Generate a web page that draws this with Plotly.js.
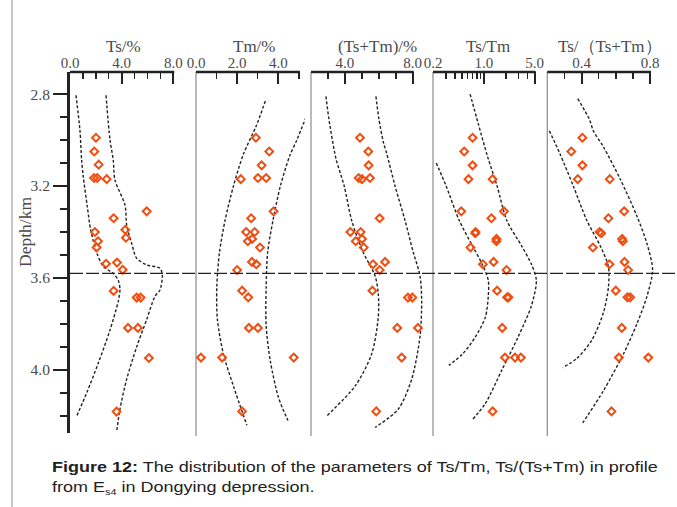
<!DOCTYPE html>
<html>
<head>
<meta charset="utf-8">
<script src="https://cdn.plot.ly/plotly-3.0.1.min.js"></script>
<style>
  html, body { margin: 0; padding: 0; background: #fff; }
  #wrap { position: relative; width: 677px; height: 507px; overflow: hidden; }
  #chart { position: absolute; left: 0; top: 0; width: 677px; height: 507px; }
  #caption { position: absolute; left: 52px; top: 457px; width: 520px;
    transform: scaleX(1.2); transform-origin: 0 0;
    font-family: "Liberation Sans", Arial, sans-serif; font-size: 15px; line-height: 20px; color: #222; }
  #caption .ln { white-space: nowrap; height: 20px; }
  #caption sub { font-size: 9px; vertical-align: -3px; line-height: 0; }
</style>
</head>
<body>
<div id="wrap">
  <div id="chart"></div>
  <div id="caption">
    <div class="ln"><b>Figure 12:</b><span> The distribution of the parameters of Ts/Tm, Ts/(Ts+Tm) in profile</span></div>
    <div class="ln"><span>from E</span><sub>s4</sub><span> in Dongying depression.</span></div>
  </div>
</div>
<script>
// ---------- Data ----------
const panelTitles = ["Ts/%", "Tm/%", "(Ts+Tm)/%", "Ts/Tm", "Ts/（Ts+Tm）"];

// Panel 1: Ts (%)
const depthTs = [2.99, 3.05, 3.107, 3.165, 3.165, 3.17, 3.31, 3.34, 3.39, 3.40, 3.425, 3.44, 3.467, 3.533, 3.538, 3.564, 3.656, 3.685, 3.685, 3.817, 3.817, 3.948, 4.181];
const valTs   = [2.01, 1.88, 2.22, 1.86, 2.11, 2.84, 5.94, 3.38, 4.28, 1.93, 4.33, 2.17, 2.06, 3.64, 2.79, 4.08, 3.38, 5.16, 5.47, 4.49, 5.26, 6.11, 3.61];
const tsLeftX  = [0.46, 0.77, 0.90, 1.03, 1.34, 1.60, 2.07, 2.58, 3.35, 3.74, 3.87, 3.74, 3.10, 2.19, 1.29, 0.52];
const tsLeftD  = [2.805, 2.957, 3.087, 3.16, 3.29, 3.39, 3.49, 3.55, 3.58, 3.61, 3.65, 3.70, 3.826, 3.97, 4.10, 4.20];
const tsRightX = [2.79, 3.10, 3.35, 3.48, 4.26, 4.39, 4.78, 5.16, 5.94, 6.97, 7.15, 6.97, 6.58, 5.94, 5.16, 4.39, 3.87, 3.61];
const tsRightD = [2.805, 3.0, 3.087, 3.174, 3.283, 3.37, 3.45, 3.514, 3.543, 3.558, 3.587, 3.652, 3.68, 3.78, 3.90, 4.04, 4.17, 4.27];

// Panel 2: Tm (%)
const depthTm = [2.99, 3.05, 3.11, 3.17, 3.165, 3.165, 3.31, 3.34, 3.40, 3.40, 3.43, 3.44, 3.467, 3.53, 3.54, 3.565, 3.655, 3.684, 3.817, 3.817, 3.946, 3.946, 3.946, 4.18];
const valTm   = [2.91, 3.56, 3.19, 2.18, 3.01, 3.41, 3.77, 2.68, 2.44, 2.85, 2.73, 2.52, 3.11, 2.72, 2.93, 2.00, 2.24, 2.54, 2.57, 3.01, 0.24, 1.27, 4.75, 2.24];
const tmLeftX  = [3.37, 2.92, 2.31, 1.82, 1.41, 1.14, 1.01, 1.04, 1.33, 1.82, 2.47];
const tmLeftD  = [2.83, 2.94, 3.06, 3.20, 3.35, 3.49, 3.64, 3.78, 3.93, 4.07, 4.24];
const tmRightX = [5.35, 4.90, 4.55, 4.10, 3.74, 3.48, 3.41, 3.41, 3.61, 4.01, 4.47];
const tmRightD = [2.90, 3.00, 3.07, 3.20, 3.35, 3.49, 3.64, 3.81, 3.96, 4.12, 4.22];

// Panel 3: Ts+Tm (%)
const depthSum = [2.99, 3.05, 3.11, 3.165, 3.17, 3.165, 3.34, 3.40, 3.40, 3.43, 3.44, 3.467, 3.54, 3.53, 3.565, 3.655, 3.685, 3.685, 3.817, 3.817, 3.946, 4.18];
const valSum   = [4.89, 5.38, 5.40, 4.81, 5.01, 5.48, 6.05, 4.32, 4.93, 5.01, 4.64, 5.11, 5.66, 6.37, 6.05, 5.62, 7.72, 7.98, 7.09, 8.31, 7.35, 5.85];
const sumLeftX  = [2.88, 3.06, 3.47, 3.96, 4.40, 5.09, 5.78, 5.97, 5.97, 5.58, 4.60, 2.93];
const sumLeftD  = [2.81, 2.91, 3.08, 3.20, 3.35, 3.49, 3.59, 3.67, 3.77, 3.93, 4.07, 4.20];
const sumRightX = [5.83, 6.01, 6.27, 6.47, 6.96, 7.55, 8.04, 8.43, 8.53, 8.43, 7.94, 7.15, 5.78];
const sumRightD = [2.81, 2.91, 3.01, 3.06, 3.20, 3.35, 3.49, 3.59, 3.70, 3.855, 4.04, 4.17, 4.25];

// Panel 4: Ts/Tm (log axis)
const depthRatio = [2.99, 3.05, 3.11, 3.17, 3.17, 3.31, 3.31, 3.34, 3.40, 3.405, 3.43, 3.44, 3.467, 3.54, 3.53, 3.565, 3.655, 3.684, 3.684, 3.817, 3.946, 3.946, 3.946, 4.18];
const valRatio   = [0.70, 0.537, 0.70, 0.615, 1.32, 0.489, 1.89, 1.27, 0.77, 0.76, 1.49, 1.49, 0.655, 0.97, 1.36, 2.05, 1.52, 2.09, 2.18, 1.79, 1.95, 2.68, 3.23, 1.32];
const ratioLeftX  = [0.222, 0.303, 0.459, 0.697, 0.95, 1.15, 1.15, 1.05, 0.77, 0.51, 0.33];
const ratioLeftD  = [3.10, 3.20, 3.35, 3.46, 3.54, 3.61, 3.68, 3.77, 3.855, 3.93, 3.98];
const ratioRightX = [0.647, 0.84, 1.12, 1.52, 2.07, 3.30, 4.51, 5.27, 4.51, 2.97, 1.77, 1.05, 0.68];
const ratioRightD = [2.80, 2.93, 3.07, 3.20, 3.35, 3.46, 3.54, 3.61, 3.72, 3.855, 4.00, 4.145, 4.22];

// Panel 5: Ts/(Ts+Tm)
const depthFrac = [2.99, 3.05, 3.11, 3.17, 3.17, 3.31, 3.34, 3.40, 3.405, 3.43, 3.44, 3.467, 3.54, 3.53, 3.565, 3.655, 3.684, 3.684, 3.817, 3.946, 3.946, 4.18];
const valFrac   = [0.405, 0.34, 0.405, 0.378, 0.565, 0.649, 0.557, 0.505, 0.515, 0.637, 0.641, 0.466, 0.563, 0.651, 0.672, 0.60, 0.668, 0.684, 0.635, 0.618, 0.79, 0.575];
const fracLeftX  = [0.212, 0.274, 0.352, 0.431, 0.509, 0.557, 0.557, 0.528, 0.46, 0.372, 0.29];
const fracLeftD  = [2.96, 3.06, 3.20, 3.35, 3.46, 3.55, 3.64, 3.75, 3.87, 3.95, 3.99];
const fracRightX = [0.378, 0.446, 0.469, 0.528, 0.626, 0.723, 0.782, 0.815, 0.782, 0.723, 0.645, 0.528, 0.407];
const fracRightD = [2.82, 2.91, 2.96, 3.03, 3.17, 3.33, 3.45, 3.565, 3.68, 3.80, 3.93, 4.09, 4.23];

const boundaryDepth = 3.58;

// Tick labels
const yTickVals = [2.8, 3.2, 3.6, 4.0];
const yTickText = ["2.8", "3.2", "3.6", "4.0"];
const yMinorVals = [2.9, 3.0, 3.1, 3.3, 3.4, 3.5, 3.7, 3.8, 3.9, 4.1, 4.2];

const x1Ticks = [0, 4, 8],   x1Text = ["0.0", "4.0", "8.0"], x1Minor = [1, 2, 3, 5, 6, 7];
const x2Ticks = [0, 2, 4],   x2Text = ["0.0", "2.0", "4.0"], x2Minor = [1, 3, 5];
const x3Ticks = [4, 8],      x3Text = ["4.0", "8.0"],        x3Minor = [3, 5, 6, 7];
const x4Ticks = [0.2, 1, 5], x4Text = ["0.2", "1.0", "5.0"], x4Minor = [0.3, 0.4, 0.5, 0.6, 0.7, 0.8, 0.9, 2, 3, 4];
const x5Ticks = [0.4, 0.8],  x5Text = ["0.4", "0.8"],        x5Minor = [0.3, 0.5, 0.6, 0.7];

// ---------- Layout geometry ----------
const W = 677, H = 507;
const topPx = 72, botPx = 433;
const px = v => v / W;
const py = v => 1 - v / H;

const panels = [
  {left: 70,    right: 188, r0: 0,    scale: 12.9125, type: 'linear', axEnd: 8},
  {left: 196,   right: 305, r0: 0,    scale: 20.575,  type: 'linear', axEnd: 5},
  {left: 311,   right: 428, r0: 2,    scale: 16.95,   type: 'linear', axEnd: 8},
  {left: 433,   right: 545, r0: Math.log10(0.2), scale: 72.75, type: 'log', axEnd: Math.log10(5)},
  {left: 547.3, right: 672, r0: 0.2,  scale: 171.2,   type: 'linear', axEnd: 0.8}
];
panels.forEach(p => { p.r1 = p.r0 + (p.right - p.left) / p.scale; p.axEndPx = p.left + (p.axEnd - p.r0) * p.scale; });

const serif = '"Liberation Serif", "Times New Roman", serif';
const textCol = '#4a4a4a';
const axCol = '#222';
const markerCol = '#ef4e12';

const tickSets = [
  [x1Ticks, x1Text, x1Minor],
  [x2Ticks, x2Text, x2Minor],
  [x3Ticks, x3Text, x3Minor],
  [x4Ticks, x4Text, x4Minor],
  [x5Ticks, x5Text, x5Minor]
];

const layout = {
  width: W, height: H,
  margin: {l: 0, r: 0, t: 0, b: 0, pad: 0},
  paper_bgcolor: '#fff', plot_bgcolor: 'rgba(0,0,0,0)',
  showlegend: false,
  font: {family: serif, color: textCol, size: 14},
  yaxis: {
    domain: [py(botPx), py(topPx)],
    range: [4.274, 2.704],
    anchor: 'x',
    showline: true, linecolor: axCol, linewidth: 3,
    ticks: 'outside', ticklen: 14, tickwidth: 1.2, tickcolor: axCol,
    tickmode: 'array', tickvals: yTickVals, ticktext: yTickText,
    minor: {tickmode: 'array', tickvals: yMinorVals, ticks: 'outside', ticklen: 7, tickwidth: 2, tickcolor: axCol},
    showgrid: false, zeroline: false,
    tickfont: {family: serif, size: 15.5, color: textCol}
  },
  shapes: [],
  annotations: []
};

panels.forEach((p, i) => {
  const key = i === 0 ? 'xaxis' : 'xaxis' + (i + 1);
  const [tv, tt, mv] = tickSets[i];
  layout[key] = {
    domain: [px(p.left), px(p.right)],
    range: [p.r0, p.r1],
    type: p.type,
    side: 'top', anchor: 'y',
    showline: false, showgrid: false, zeroline: false,
    ticks: 'inside', ticklen: 12, tickwidth: 2, tickcolor: axCol,
    tickmode: 'array', tickvals: tv, ticktext: tt,
    minor: {tickmode: 'array', tickvals: mv, ticks: 'inside', ticklen: 7, tickwidth: 1.5, tickcolor: axCol, showgrid: false},
    tickfont: {family: serif, size: 15, color: textCol},
    ticklabelstandoff: 0
  };
  layout.shapes.push({type: 'line', xref: 'paper', yref: 'paper',
    x0: px(p.left), x1: px(p.axEndPx + 1), y0: py(topPx), y1: py(topPx),
    line: {color: axCol, width: 2.5}, layer: 'above'});
  if (i > 0) {
    layout.shapes.push({type: 'line', xref: 'paper', yref: 'paper',
      x0: px(p.left), x1: px(p.left), y0: py(topPx), y1: py(436),
      line: {color: '#8a8a8a', width: 1.2}, layer: 'below'});
  }
});

const titleCenters = [124, 255, 377, 488, 610];
panelTitles.forEach((t, i) => {
  layout.annotations.push({text: t, xref: 'paper', yref: 'paper',
    x: px(titleCenters[i]), y: py(46), xanchor: 'center', yanchor: 'middle',
    showarrow: false, font: {family: serif, size: 17, color: textCol}});
});
layout.annotations.push({text: 'Depth/km', xref: 'paper', yref: 'paper',
  x: px(25), y: py(232), textangle: -90, xanchor: 'center', yanchor: 'middle',
  showarrow: false, font: {family: serif, size: 17.5, color: textCol}});

layout.shapes.push({type: 'line', xref: 'paper', yref: 'y',
  x0: px(70), x1: 1, y0: boundaryDepth, y1: boundaryDepth,
  line: {color: axCol, width: 1.3, dash: '13px,3px'}, layer: 'above'});
layout.shapes.push({type: 'line', xref: 'paper', yref: 'paper',
  x0: px(12), x1: px(12), y0: 0, y1: 1, line: {color: '#b5b5b5', width: 1.5}});

// ---------- Traces ----------
const traces = [];
const series = [
  [valTs, depthTs, [tsLeftX, tsLeftD], [tsRightX, tsRightD]],
  [valTm, depthTm, [tmLeftX, tmLeftD], [tmRightX, tmRightD]],
  [valSum, depthSum, [sumLeftX, sumLeftD], [sumRightX, sumRightD]],
  [valRatio, depthRatio, [ratioLeftX, ratioLeftD], [ratioRightX, ratioRightD]],
  [valFrac, depthFrac, [fracLeftX, fracLeftD], [fracRightX, fracRightD]]
];
series.forEach((s, i) => {
  const xa = i === 0 ? 'x' : 'x' + (i + 1);
  [s[2], s[3]].forEach(c => {
    traces.push({type: 'scatter', mode: 'lines', x: c[0], y: c[1], xaxis: xa, yaxis: 'y',
      line: {color: '#222', width: 1.4, dash: '3px,2px', shape: 'spline', smoothing: 0.8},
      hoverinfo: 'skip'});
  });
  traces.push({type: 'scatter', mode: 'markers', x: s[0], y: s[1], xaxis: xa, yaxis: 'y',
    cliponaxis: false,
    marker: {symbol: 'diamond-open', size: 6, color: markerCol, line: {color: markerCol, width: 2}}});
});

Plotly.newPlot('chart', traces, layout, {displayModeBar: false, staticPlot: true});
</script>
</body>
</html>
